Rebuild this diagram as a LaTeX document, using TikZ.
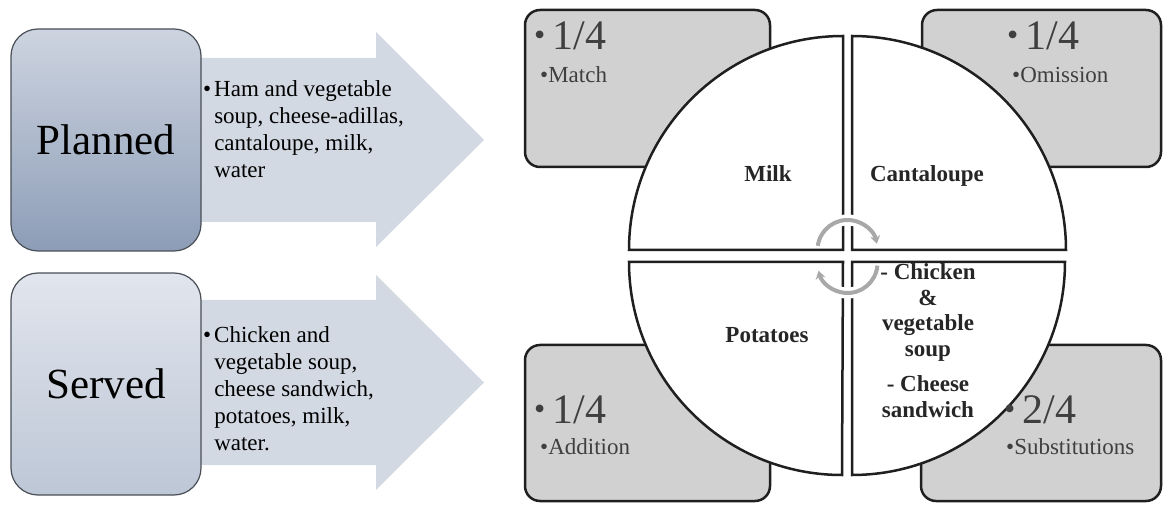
\documentclass[tikz,border=0pt]{standalone}
\usepackage{fontspec}
\setmainfont{Liberation Serif}
\usetikzlibrary{arrows.meta}

\definecolor{arrowfill}{HTML}{D3D9E3}
\definecolor{stageedge}{HTML}{4A4F57}
\definecolor{plantop}{HTML}{CDD4E0}
\definecolor{planbot}{HTML}{8D9DB7}
\definecolor{servtop}{HTML}{E1E5ED}
\definecolor{servbot}{HTML}{BDC7D6}
\definecolor{countfill}{HTML}{D1D1D1}
\definecolor{counttextcol}{HTML}{3F3F3F}
\definecolor{wedgetextcol}{HTML}{262626}
\definecolor{swirlgray}{HTML}{A8A8A8}

% smaller, raised bullet used in front of the large counts
\newcommand{\countdot}{\raisebox{4pt}{\fontsize{32}{32}\selectfont•}\hspace{7pt}}

\begin{document}
\begin{tikzpicture}[x=1pt,y=1pt,
  stagebox/.style={draw=stageedge, line width=1.2pt, rounded corners=27pt,
    minimum width=190pt, minimum height=222pt, inner sep=0pt,
    font=\fontsize{43}{50}\selectfont},
  bigarrow/.style={fill=arrowfill, draw=none},
  listtext/.style={inner sep=0pt, anchor=base west, font=\fontsize{23}{27}\selectfont},
  countbox/.style={draw=black!88, line width=2.5pt, rounded corners=15pt, fill=countfill, inner sep=0pt},
  countbig/.style={inner sep=0pt, anchor=base west, text=counttextcol, font=\fontsize{42}{48}\selectfont},
  countsmall/.style={inner sep=0pt, anchor=base west, text=counttextcol, font=\fontsize{23}{27}\selectfont},
  wedge/.style={draw=black!88, line width=2.5pt, fill=white},
  wedgelabel/.style={inner sep=0pt, anchor=base, text=wedgetextcol, font=\bfseries\fontsize{23}{25.5}\selectfont},
  swirl/.style={draw=swirlgray, line width=4pt, -{Stealth[length=8pt,width=10pt]}},
  halo/.style={draw=white, line width=11pt}
]
\useasboundingbox (0,0) rectangle (1163,504);

% ---- left column: the two block arrows behind their stage boxes
\path[bigarrow] (106,282) -- (376,282) -- (376,257) -- (484,364)
  -- (376,472) -- (376,446) -- (106,446) -- cycle;
\path[bigarrow] (106,39) -- (376,39) -- (376,14) -- (484,121.5)
  -- (376,229) -- (376,204) -- (106,204) -- cycle;

\node[stagebox, top color=plantop, bottom color=planbot] (planned) at (106,364) {Planned};
\node[stagebox, top color=servtop, bottom color=servbot] (served) at (106,120) {Served};

\node[listtext] (plannedlist) at (203,407) {\begin{tabular}[t]{@{}l@{\hspace{3pt}}l@{}}
  •&Ham and vegetable\\ &soup, cheese-adillas,\\ &cantaloupe, milk,\\ &water\end{tabular}};
\node[listtext] (servedlist) at (203,161) {\begin{tabular}[t]{@{}l@{\hspace{3pt}}l@{}}
  •&Chicken and\\ &vegetable soup,\\ &cheese sandwich,\\ &potatoes, milk,\\ &water.\end{tabular}};

% ---- right column: four count boxes in the corners
\node[countbox, minimum width=245pt, minimum height=157pt] (matchbox) at (647.5,415.5) {};
\node[countbox, minimum width=239pt, minimum height=157pt] (omitbox) at (1041.5,415.5) {};
\node[countbox, minimum width=245pt, minimum height=156pt] (addbox) at (647.5,81) {};
\node[countbox, minimum width=240pt, minimum height=156pt] (subbox) at (1041,81) {};

% ---- the split circle
\draw[wedge] (843,254) -- (629,254) arc[start angle=180, end angle=90, radius=214] -- cycle;
\draw[wedge] (852,254) -- (852,468) arc[start angle=90, end angle=0, radius=214] -- cycle;
\draw[wedge] (843,242) -- (629,242) arc[start angle=180, end angle=270, radius=213] -- cycle;
\draw[wedge] (852,242) -- (852,29) arc[start angle=270, end angle=360, radius=213] -- cycle;

\node[wedgelabel] (milk) at (768,322) {Milk};
\node[wedgelabel] (cantaloupe) at (927,322) {Cantaloupe};
\node[wedgelabel] (potatoes) at (767,161) {Potatoes};
\node[wedgelabel] (swapped) at (928,224) {\begin{tabular}[t]{@{}c@{}}- Chicken\\ \&\\ vegetable\\ soup\\[10pt] - Cheese\\ sandwich\end{tabular}};

% ---- counts in the corner boxes
\node[countbig] (matchn) at (534,454) {\countdot 1/4};
\node[countsmall] (matchl) at (540,421) {•Match};
\node[countbig] (omitn) at (1007,454) {\countdot 1/4};
\node[countsmall] (omitl) at (1012,421) {•Omission};
\node[countbig] (addn) at (534,81) {\countdot 1/4};
\node[countsmall] (addl) at (540,50) {•Addition};
\node[countbig] (subn) at (1004,81) {\countdot 2/4};
\node[countsmall] (subl) at (1006,50) {•Substitutions};

% ---- circular arrows at the centre
\draw[halo] (847.5,254) ++(118:30) arc[start angle=118, end angle=62, radius=30];
\draw[swirl] (847.5,254) ++(172:30) arc[start angle=172, end angle=12, radius=30];
\draw[halo] (847.5,241) ++(-62:30) arc[start angle=-62, end angle=-118, radius=30];
\draw[swirl] (847.5,241) ++(-5:30) arc[start angle=-5, end angle=-165, radius=30];
\end{tikzpicture}
\end{document}
